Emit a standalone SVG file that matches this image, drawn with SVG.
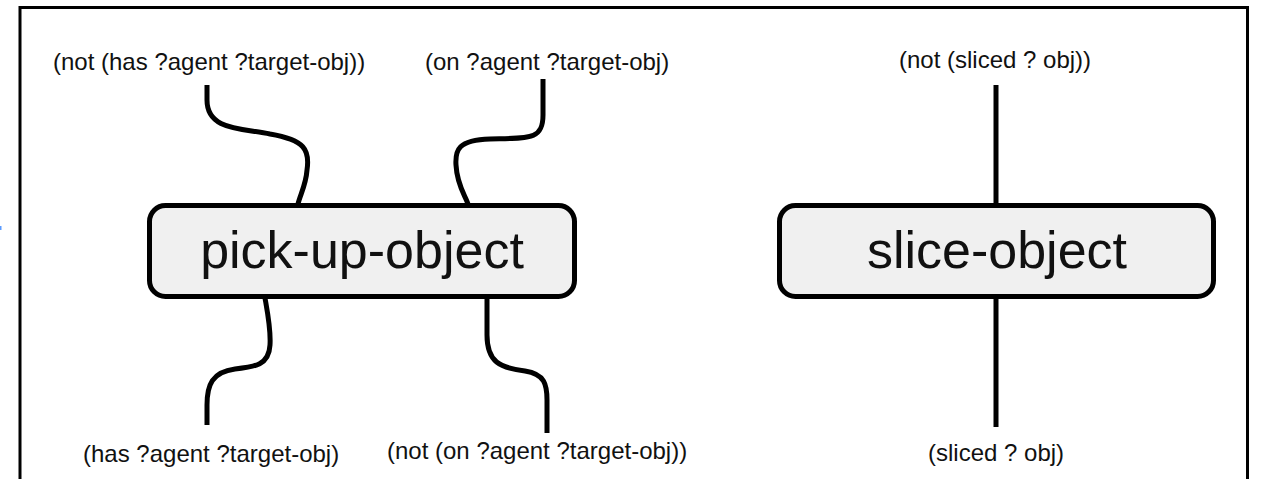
<svg xmlns="http://www.w3.org/2000/svg" width="1261" height="479" viewBox="0 0 1261 479">
  <style>
    .frame { fill: none; stroke: #000; stroke-width: 3; }
    .node rect { fill: #f0f0f0; stroke: #000; stroke-width: 5; }
    .node text { font-family: "Liberation Sans", Arial, sans-serif; font-size: 52px; fill: #111; text-anchor: middle; }
    .label { font-family: "Liberation Sans", Arial, sans-serif; font-size: 24px; fill: #111; }
    .wire { fill: none; stroke: #000; stroke-width: 5; }
  </style>
  <rect width="1261" height="479" fill="#fff"/>
  <!-- open frame: left, top and right edges -->
  <path class="frame" d="M20 479 V7.5 H1247.5 V479"/>
  <rect x="0" y="226" width="1.5" height="4" fill="#5b9bff"/>

  <g id="connectors">
    <path class="wire" d="M207 85 L207 100 C207 130 240 128 270 134 C305 140 310 150 307 170 C306 185 300 195 298 204"/>
    <path class="wire" d="M543 79 L543 115 C543 140 530 138 490 139 C458 140 455 150 456 165 C457 185 465 195 468 204"/>
    <path class="wire" d="M265 298 C268 315 271 330 270 345 C269 365 255 367 235 369 C212 372 207 385 207 405 L207 425"/>
    <path class="wire" d="M487 298 L487 335 C487 362 500 368 525 371 C545 374 547 385 547 400 L547 433"/>
    <path class="wire" d="M996 85 V204"/>
    <path class="wire" d="M996 298 V427"/>
  </g>

  <g id="pick-up-object" class="node">
    <rect x="149.5" y="205.5" width="425" height="91" rx="16"/>
    <text x="362" y="268">pick-up-object</text>
  </g>

  <g id="slice-object" class="node">
    <rect x="779.5" y="205.5" width="434" height="91" rx="16"/>
    <text x="997" y="268">slice-object</text>
  </g>

  <g id="labels">
    <text class="label" x="53" y="70">(not (has ?agent ?target-obj))</text>
    <text class="label" x="425" y="70">(on ?agent ?target-obj)</text>
    <text class="label" x="899" y="68">(not (sliced ? obj))</text>
    <text class="label" x="83" y="462">(has ?agent ?target-obj)</text>
    <text class="label" x="387" y="459">(not (on ?agent ?target-obj))</text>
    <text class="label" x="928" y="461">(sliced ? obj)</text>
  </g>
</svg>
